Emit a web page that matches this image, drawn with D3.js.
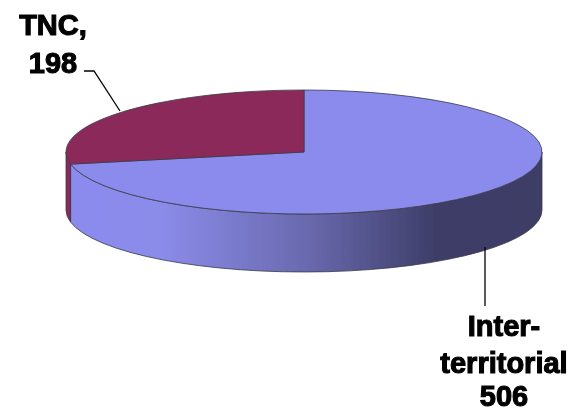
<!DOCTYPE html>
<html><head><meta charset="utf-8">
<script src="https://cdn.jsdelivr.net/npm/d3@7"></script>
<style>html,body{margin:0;padding:0;background:#fff}svg{display:block}
text{font-family:"Liberation Sans",Arial,sans-serif;font-weight:700;font-size:29px;fill:#000;stroke:#000;stroke-width:1.1px;text-anchor:middle}</style>
</head><body>
<script>
const categories = ["Inter-territorial", "TNC"];
const values = [506, 198];
const topColors = ["#8b8bee", "#8b2c5a"];
const labelLines = [["Inter-", "territorial", "506"], ["TNC,", "198"]];

const W = 573, H = 412, cx = 304, cy = 152, rx = 238, ry = 62, depth = 58;
const svg = d3.select("body").append("svg").attr("width", W).attr("height", H);

const defs = svg.append("defs");
const grad = defs.append("linearGradient").attr("id", "side")
  .attr("gradientUnits", "userSpaceOnUse").attr("x1", cx - rx).attr("x2", cx + rx).attr("y1", 0).attr("y2", 0);
[[0, "#8b8bee"], [.2, "#8b8bea"], [.5, "#6a6ab0"], [.78, "#3d3d68"], [1, "#3d3d66"]]
  .forEach(([o, c]) => grad.append("stop").attr("offset", o).attr("stop-color", c));
defs.append("filter").attr("id", "soft").append("feGaussianBlur").attr("stdDeviation", .45);

const arcs = d3.pie().sort(null).value(d => d)(values);
const root = svg.append("g").attr("filter", "url(#soft)");

const pt = a => [cx + rx * Math.sin(a), cy - ry * Math.cos(a)];
function wall(a0, a1) {
  const [x0, y0] = pt(a0), [x1, y1] = pt(a1);
  return `M${x0},${y0}A${rx},${ry} 0 0 1 ${x1},${y1}L${x1},${y1 + depth}A${rx},${ry} 0 0 0 ${x0},${y0 + depth}Z`;
}
const edge = "#3a3a4a";
// Visible side walls: only the front half of the ellipse
const frontStart = Math.PI / 2, frontEnd = 3 * Math.PI / 2;
arcs.forEach((d, i) => {
  const a0 = Math.max(d.startAngle, frontStart), a1 = Math.min(d.endAngle, frontEnd);
  if (a1 > a0) root.append("path").attr("d", wall(a0, a1))
    .attr("fill", i === 0 ? "url(#side)" : topColors[i])
    .attr("stroke", edge).attr("stroke-width", .8);
});

const arc = d3.arc().innerRadius(0).outerRadius(rx);
root.append("g").attr("transform", `translate(${cx},${cy}) scale(1,${ry / rx})`)
  .selectAll("path").data(arcs).join("path")
  .attr("d", arc)
  .attr("fill", (d, i) => topColors[i])
  .attr("stroke", edge).attr("stroke-width", .8)
  .attr("vector-effect", "non-scaling-stroke");

// Leader lines
const leader = d3.line();
root.append("path").attr("d", leader([[84, 71], [94, 71], [120, 111]])).attr("fill", "none").attr("stroke", "#000").attr("stroke-width", 1.3);
root.append("path").attr("d", leader([[485, 247], [485, 306]])).attr("fill", "none").attr("stroke", "#000").attr("stroke-width", 1.3);

// Labels
const labelPos = [{x: 504, ys: [336, 373, 405.5]}, {x: 53, ys: [35, 73]}];
labelLines.forEach((lines, i) => lines.forEach((t, j) => {
  root.append("text").attr("x", labelPos[i].x).attr("y", labelPos[i].ys[j]).text(t);
}));
</script>
</body></html>
